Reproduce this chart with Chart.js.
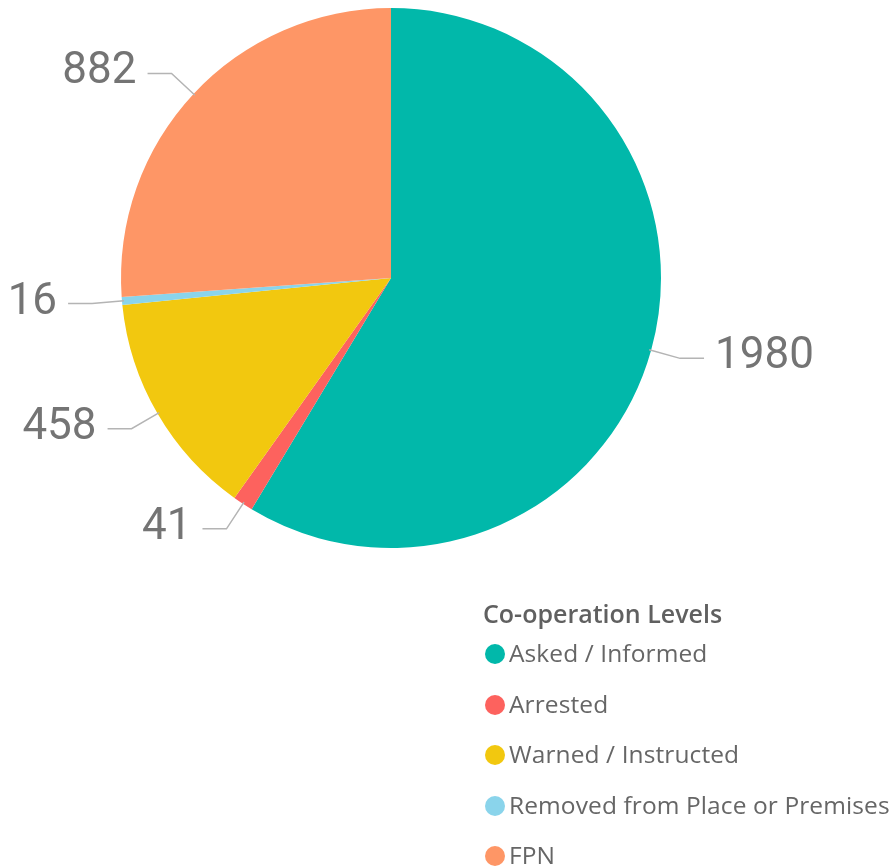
<!DOCTYPE html>
<html>
<head>
<meta charset="utf-8">
<script src="https://cdn.jsdelivr.net/npm/chart.js@4/dist/chart.umd.min.js"></script>
<style>
  html, body { margin: 0; padding: 0; background: #fff; }
  #wrap { position: relative; width: 894px; height: 868px; }
  #pie { position: absolute; left: 0; top: 0; }
  #legend { position: absolute; left: 483px; top: 596px; font-family: "Open Sans", "Noto Sans", sans-serif; color: #666; }
  #legend .title { font-size: 25px; font-weight: 600; color: #606060; height: 32px; line-height: 34px; }
  #legend .item { height: 50.5px; line-height: 50.5px; font-size: 24.5px; white-space: nowrap; letter-spacing: 0.1px; }
  #legend .dot { display: inline-block; width: 20px; height: 20px; border-radius: 50%; vertical-align: -2px; margin: 0 4px 0 2px; }
</style>
</head>
<body>
<div id="wrap">
  <canvas id="pie" width="894" height="868"></canvas>
  <div id="legend"></div>
</div>
<script>
// ===== 数据 =====
const categories = ['Asked / Informed', 'Arrested', 'Warned / Instructed', 'Removed from Place or Premises', 'FPN'];
const counts = [1980, 41, 458, 16, 882];
const colors = ['#01B8AA', '#FD625E', '#F2C80F', '#8AD4EB', '#FE9666'];
const legendTitle = 'Co-operation Levels';

// 引导线 + 数值标签
const leaderLabels = {
  id: 'leaderLabels',
  afterDatasetsDraw(chart) {
    const { ctx } = chart;
    const meta = chart.getDatasetMeta(0);
    ctx.save();
    meta.data.forEach((arc, i) => {
      const { x, y, startAngle, endAngle, outerRadius } = arc.getProps(['x', 'y', 'startAngle', 'endAngle', 'outerRadius'], true);
      const mid = (startAngle + endAngle) / 2;
      const cos = Math.cos(mid), sin = Math.sin(mid);
      const p0 = { x: x + cos * (outerRadius - 2), y: y + sin * (outerRadius - 2) };
      const p1 = { x: x + cos * (outerRadius + 30), y: y + sin * (outerRadius + 30) };
      const dir = cos >= 0 ? 1 : -1;
      const p2 = { x: p1.x + dir * 24, y: p1.y };
      ctx.strokeStyle = '#b4b4b4';
      ctx.lineWidth = 1.5;
      ctx.beginPath();
      ctx.moveTo(p0.x, p0.y);
      ctx.lineTo(p1.x, p1.y);
      ctx.lineTo(p2.x, p2.y);
      ctx.stroke();
      ctx.fillStyle = '#747474';
      ctx.font = '44px Roboto, "DejaVu Sans", sans-serif';
      ctx.textBaseline = 'middle';
      ctx.textAlign = dir > 0 ? 'left' : 'right';
      ctx.fillText(String(counts[i]), p2.x + dir * 11, p2.y - 1);
    });
    ctx.restore();
  }
};

new Chart(document.getElementById('pie'), {
  type: 'pie',
  data: {
    labels: categories,
    datasets: [{ data: counts, backgroundColor: colors, borderWidth: 0 }],
  },
  options: {
    responsive: false,
    animation: false,
    layout: { padding: { left: 121, right: 233, top: 8, bottom: 320 } },
    plugins: { legend: { display: false }, tooltip: { enabled: false } },
  },
  plugins: [leaderLabels],
});

// 图例
let html = `<div class="title">${legendTitle}</div>`;
categories.forEach((c, i) => {
  html += `<div class="item"><span class="dot" style="background:${colors[i]}"></span>${c}</div>`;
});
document.getElementById('legend').innerHTML = html;
</script>
</body>
</html>
